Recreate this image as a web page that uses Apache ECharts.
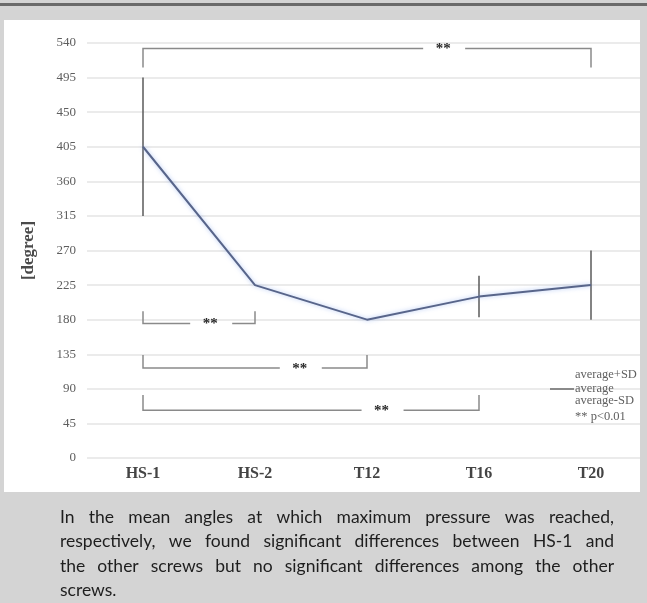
<!DOCTYPE html>
<html><head><meta charset="utf-8">
<script src="https://cdn.jsdelivr.net/npm/echarts@6/dist/echarts.min.js"></script>
<style>html,body{margin:0;padding:0;background:#d4d4d4}#c{width:647px;height:603px}</style>
</head><body><div id="c"></div><script>
// ---- data ----
const categories = ['HS-1', 'HS-2', 'T12', 'T16', 'T20'];
const means = [405, 225, 180, 210, 225];
const sds = [90, null, null, 27, 45];
const yMin = 0, yMax = 540, yStep = 45;
// significance brackets: [from, to, bar value, tick end value]
const bracketFrom = ['HS-1', 'HS-1', 'HS-1', 'HS-1'];
const bracketTo = ['T20', 'HS-2', 'T12', 'T16'];
const bracketBar = [533, 175, 117, 62];
const bracketTick = [508, 191, 134, 82];
const bracketStarFrac = [0.67, 0.6, 0.7, 0.71];
const legendLines = ['average+SD', 'average', 'average-SD', '** p<0.01'];
const captionLines = [
  'In the mean angles at which maximum pressure was reached,',
  'respectively, we found significant differences between HS-1 and',
  'the other screws but no significant differences among the other',
  'screws.'
];

// ---- chart ----
const chart = echarts.init(document.getElementById('c'), null, {renderer: 'canvas'});
const serif = '"Liberation Serif", "Times New Roman", serif';

const errData = [];
means.forEach((m, i) => { if (sds[i] != null) errData.push([i, m - sds[i], m + sds[i]]); });
const brData = bracketFrom.map((f, i) => [categories.indexOf(f), categories.indexOf(bracketTo[i]), bracketBar[i], bracketTick[i], bracketStarFrac[i]]);

// caption, justified
const capFont = '17.5px Lato';
const meas = document.createElement('canvas').getContext('2d');
meas.font = capFont;
const capLeft = 60, capRight = 614, capTop = 517, capLH = 24.5;
const capEls = [];
captionLines.forEach((line, li) => {
  const y = capTop + li * capLH;
  const words = line.split(' ');
  const last = li === captionLines.length - 1;
  if (last || words.length < 2) {
    capEls.push({type: 'text', x: capLeft, y: y, z: 10, style: {text: line, font: capFont, fill: '#1e1e1e', textVerticalAlign: 'middle'}});
    return;
  }
  const widths = words.map(w => meas.measureText(w).width);
  const total = widths.reduce((a, b) => a + b, 0);
  const gap = (capRight - capLeft - total) / (words.length - 1);
  let x = capLeft;
  words.forEach((w, wi) => {
    capEls.push({type: 'text', x: x, y: y, z: 10, style: {text: w, font: capFont, fill: '#1e1e1e', textVerticalAlign: 'middle'}});
    x += widths[wi] + gap;
  });
});

const legendY = [375, 389, 401, 417];
const legendEls = legendLines.map((t, i) => ({
  type: 'text', x: 575, y: legendY[i], z: 10,
  style: {text: t, font: '12.5px ' + serif, fill: '#606060', textVerticalAlign: 'middle'}
}));
legendEls.push({type: 'line', z: 10, shape: {x1: 550, y1: 389, x2: 574, y2: 389}, style: {stroke: '#555', lineWidth: 1.3}});

const option = {
  animation: false,
  backgroundColor: '#d4d4d4',
  graphic: [
    {type: 'rect', z: -10, silent: true, shape: {x: 0, y: 3, width: 647, height: 3}, style: {fill: '#6a6a6a'}},
    {type: 'rect', z: -10, silent: true, shape: {x: 4, y: 20, width: 636, height: 472}, style: {fill: '#ffffff'}},
    {type: 'rect', z: 100, silent: true, shape: {x: 640, y: 20, width: 7, height: 472}, style: {fill: '#d4d4d4'}},
    ...legendEls,
    ...capEls
  ],
  grid: {left: 87, top: 43, width: 562, height: 415},
  xAxis: {
    type: 'category', data: categories, boundaryGap: true,
    axisLine: {show: false}, axisTick: {show: false},
    axisLabel: {margin: 8, color: '#444', fontFamily: serif, fontWeight: 'bold', fontSize: 16}
  },
  yAxis: {
    type: 'value', min: yMin, max: yMax, interval: yStep,
    name: '[degree]', nameLocation: 'middle', nameRotate: 90, nameGap: 50,
    nameTextStyle: {fontFamily: serif, fontWeight: 'bold', fontSize: 17, color: '#4a4a4a'},
    axisLine: {show: false}, axisTick: {show: false},
    axisLabel: {margin: 11, color: '#5e5e5e', fontFamily: serif, fontSize: 13},
    splitLine: {lineStyle: {color: '#e4e4e4', width: 1.5}}
  },
  series: [
    {
      type: 'custom', name: 'SD', data: errData, z: 3,
      renderItem(params, api) {
        const lo = api.coord([api.value(0), api.value(1)]);
        const hi = api.coord([api.value(0), api.value(2)]);
        return {type: 'line', shape: {x1: lo[0], y1: lo[1], x2: hi[0], y2: hi[1]}, style: {stroke: '#5a5a5a', lineWidth: 1.5}};
      }
    },
    {
      type: 'line', name: 'average', data: means, symbol: 'none', z: 5,
      lineStyle: {color: '#58658a', width: 2, shadowColor: 'rgba(110,150,235,0.55)', shadowBlur: 4}
    },
    {
      type: 'custom', name: 'brackets', data: brData, z: 4,
      renderItem(params, api) {
        const a = api.coord([api.value(0), api.value(2)]);
        const b = api.coord([api.value(1), api.value(2)]);
        const t = api.coord([api.value(0), api.value(3)]);
        const f = api.value(4);
        const sx = a[0] + (b[0] - a[0]) * f;
        const y = a[1], ty = t[1];
        const st = {stroke: '#8a8a8a', lineWidth: 1.5, fill: null};
        return {type: 'group', children: [
          {type: 'polyline', shape: {points: [[a[0], ty], [a[0], y], [sx - 20, y]]}, style: st},
          {type: 'polyline', shape: {points: [[sx + 22, y], [b[0], y], [b[0], ty]]}, style: st},
          {type: 'text', x: sx, y: y + 1, style: {text: '**', font: 'bold 15px ' + serif, fill: '#2a2a2a', textAlign: 'center', textVerticalAlign: 'middle'}}
        ]};
      }
    }
  ]
};
chart.setOption(option);
</script></body></html>
